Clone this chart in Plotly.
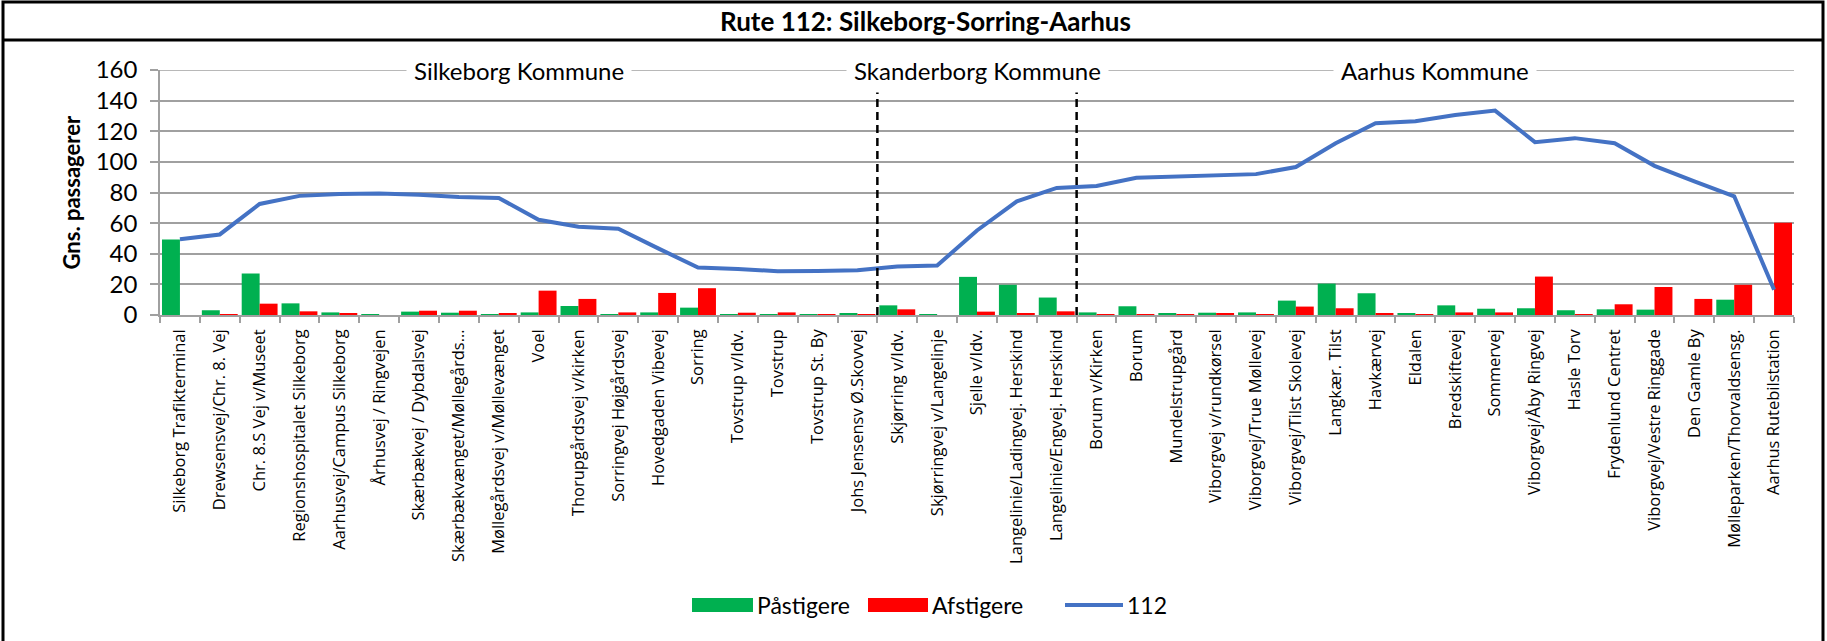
import plotly.graph_objects as go

# ---------------- data ----------------
stops = [
    "Silkeborg Trafikterminal", "Drewsensvej/Chr. 8. Vej", "Chr. 8.S Vej v/Museet",
    "Regionshospitalet Silkeborg", "Aarhusvej/Campus Silkeborg", "Århusvej / Ringvejen",
    "Skærbækvej / Dybdalsvej", "Skærbækvænget/Møllegårds...", "Møllegårdsvej v/Møllevænget",
    "Voel", "Thorupgårdsvej v/kirken", "Sorringvej Højgårdsvej", "Hovedgaden Vibevej",
    "Sorring", "Tovstrup v/Idv.", "Tovstrup", "Tovstrup St. By", "Johs Jensensv Ø.Skovvej",
    "Skjørring v/Idv.", "Skjørringvej v/Langelinje", "Sjelle v/Idv.",
    "Langelinie/Ladingvej. Herskind", "Langelinie/Engvej. Herskind", "Borum v/Kirken",
    "Borum", "Mundelstrupgård", "Viborgvej v/rundkørsel", "Viborgvej/True Møllevej",
    "Viborgvej/Tilst Skolevej", "Langkær. Tilst", "Havkærvej", "Eldalen", "Bredskiftevej",
    "Sommervej", "Viborgvej/Åby Ringvej", "Hasle Torv", "Frydenlund Centret",
    "Viborgvej/Vestre Ringgade", "Den Gamle By", "Mølleparken/Thorvaldsensg.",
    "Aarhus Rutebilstation",
]
paastigere = [49.3, 3.1, 27.1, 7.6, 1.7, 0.4, 2.2, 1.5, 0.4, 1.7,
              5.9, 0.4, 1.7, 4.8, 0.4, 0.2, 0.1, 0.9, 6.3, 0.4,
              24.9, 19.7, 11.4, 1.7, 5.7, 1.1, 1.5, 1.7, 9.4, 20.5,
              14.2, 1.1, 6.3, 4.1, 4.4, 3.1, 3.7, 3.5, 0.0, 10.0, 0.0]
afstigere = [0.0, 0.4, 7.4, 2.4, 0.9, 0.0, 2.8, 2.8, 0.9, 15.9,
             10.5, 1.7, 14.4, 17.5, 1.5, 1.7, 0.1, 0.4, 3.7, 0.0,
             2.2, 0.9, 2.4, 0.4, 0.2, 0.4, 1.3, 0.2, 5.5, 4.4,
             1.1, 0.4, 1.7, 1.7, 25.1, 0.4, 7.0, 18.3, 10.5, 19.7, 60.3]
rute_112 = [49.5, 52.6, 72.5, 77.8, 79.1, 79.3, 78.6, 77.1, 76.4, 62.2,
            57.6, 56.3, 43.5, 31.0, 30.0, 28.6, 28.8, 29.3, 31.7, 32.3,
            55.2, 74.2, 83.0, 84.2, 89.6, 90.3, 90.8, 92.0, 96.6, 112.2,
            125.3, 126.6, 130.6, 133.5, 112.9, 115.5, 112.2, 97.4, 87.3, 77.5, 16.5]
kommuner = ["Silkeborg Kommune", "Skanderborg Kommune", "Aarhus Kommune"]
kommune_antal = [18, 5, 18]
y_ticks = [0, 20, 40, 60, 80, 100, 120, 140, 160]

title_text = "Rute 112: Silkeborg-Sorring-Aarhus"
y_title = "Gns. passagerer"

# ---------------- layout helpers ----------------
W, H = 1827, 641
L, R, T, B = 160, 33, 70, 326
pw, ph = W - L - R, H - T - B


def px(x):
    return (x - L) / pw


def py(y):
    return (H - B - y) / ph


GREEN, RED, BLUE = "#00B050", "#FF0000", "#4472C4"
GRID = "#A0A0A0"
CAL = "Lato, Liberation Sans, sans-serif"

fig = go.Figure()
fig.add_bar(x=stops, y=paastigere, name="Påstigere", marker_color=GREEN,
            marker_line_width=0, showlegend=False)
fig.add_bar(x=stops, y=afstigere, name="Afstigere", marker_color=RED,
            marker_line_width=0, showlegend=False)
fig.add_scatter(x=stops, y=rute_112, mode="lines", name="112",
                line=dict(color=BLUE, width=4), showlegend=False)

shapes = []
annotations = []

# top gridline (interrupted by the kommune labels)
shapes.append(dict(type="line", xref="paper", yref="y", x0=0, x1=1, y0=y_ticks[-1], y1=y_ticks[-1],
                   line=dict(color=GRID, width=1.5), layer="below"))

# kommune labels and dashed boundaries
start = 0
for i, (navn, n) in enumerate(zip(kommuner, kommune_antal)):
    center = start + (n - 1) / 2
    annotations.append(dict(x=center, y=y_ticks[-1], xref="x", yref="y", text=navn,
                            showarrow=False, bgcolor="white", borderpad=7,
                            font=dict(family=CAL, size=24, color="black"),
                            xanchor="center", yanchor="middle"))
    if i > 0:
        shapes.append(dict(type="line", xref="x", yref="y", x0=start - 0.5, x1=start - 0.5,
                           y0=0, y1=146, line=dict(color="black", width=2.5, dash="8px,5px"),
                           layer="above"))
    start += n

# title
annotations.append(dict(x=px(925), y=py(21), xref="paper", yref="paper", text="<b>%s</b>" % title_text,
                        showarrow=False, font=dict(family=CAL, size=26, color="black"),
                        xanchor="center", yanchor="middle"))
# y axis title
annotations.append(dict(x=px(71), y=0.5, xref="paper", yref="paper", text="<b>%s</b>" % y_title,
                        showarrow=False, textangle=-90, font=dict(family=CAL, size=22, color="black"),
                        xanchor="center", yanchor="middle"))

# frame
shapes.append(dict(type="rect", xref="paper", yref="paper", x0=px(3), x1=px(1823),
                   y0=py(700), y1=py(2), line=dict(color="black", width=3), fillcolor="rgba(0,0,0,0)"))
shapes.append(dict(type="line", xref="paper", yref="paper", x0=px(3), x1=px(1823),
                   y0=py(40), y1=py(40), line=dict(color="black", width=3)))

# custom legend
ly = 605
legend_items = [("Påstigere", "box", GREEN, 692, 753),
                ("Afstigere", "box", RED, 868, 928),
                ("112", "line", BLUE, 1065, 1123)]
for name, kind, col, x0, x1 in legend_items:
    if kind == "box":
        shapes.append(dict(type="rect", xref="paper", yref="paper", x0=px(x0), x1=px(x1),
                           y0=py(ly + 7), y1=py(ly - 7), line=dict(width=0), fillcolor=col))
    else:
        shapes.append(dict(type="line", xref="paper", yref="paper", x0=px(x0), x1=px(x1),
                           y0=py(ly), y1=py(ly), line=dict(color=col, width=4)))
    annotations.append(dict(x=px(x1 + 2), y=py(ly), xref="paper", yref="paper", text=name,
                            showarrow=False, font=dict(family=CAL, size=23, color="black"),
                            xanchor="left", yanchor="middle"))

fig.update_layout(
    width=W, height=H,
    margin=dict(l=L, r=R, t=T, b=B, autoexpand=False),
    paper_bgcolor="white", plot_bgcolor="white",
    barmode="group", bargap=0.1, bargroupgap=0.0,
    shapes=shapes, annotations=annotations,
    showlegend=False,
)
fig.update_xaxes(type="category", tickangle=-90, tickson="boundaries",
                 ticks="outside", ticklen=6, tickcolor=GRID, tickwidth=1.5,
                 showline=True, linecolor=GRID, linewidth=1.5, showgrid=False,
                 tickfont=dict(family="Open Sans, sans-serif", size=16.5, color="black"),
                 ticklabelstandoff=6)
fig.update_yaxes(range=[0, 160], tickvals=y_ticks, ticks="outside", ticklen=8,
                 tickcolor=GRID, tickwidth=1.5, showline=True, linecolor=GRID, linewidth=1.5,
                 showgrid=True, gridcolor=GRID, gridwidth=1.5, zeroline=False,
                 tickfont=dict(family=CAL, size=24, color="black"), ticklabelstandoff=8)

fig.write_html("out.html", config={"displayModeBar": False},
               post_script="document.body.style.margin='0px';")
